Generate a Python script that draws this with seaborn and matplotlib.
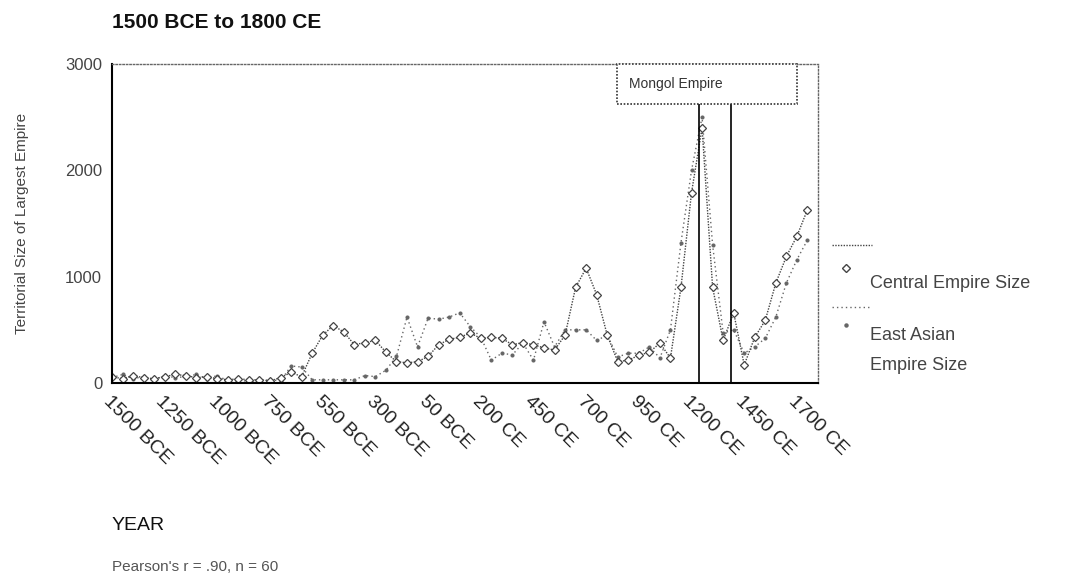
import numpy as np
import pandas as pd
import matplotlib
matplotlib.use("Agg")
import matplotlib.pyplot as plt
import seaborn as sns
from matplotlib.lines import Line2D
from matplotlib.patches import Rectangle

years = list(range(-1550, 1751, 50))
central = [60, 40, 70, 50, 40, 60, 80, 70, 50, 60, 40, 30, 40, 30, 30, 20, 50,
           100, 60, 280, 450, 540, 480, 360, 380, 400, 290, 200, 190, 200, 250, 360,
           410, 430, 470, 420, 430, 420, 360, 380, 360, 330, 310, 450, 900, 1080, 830,
           450, 200, 215, 260, 290, 375, 235, 900, 1790, 2400, 900, 400, 660, 170,
           430, 590, 940, 1190, 1380, 1630]
east_asian = [50, 80, 40, 60, 30, 70, 50, 60, 80, 40, 70, 20, 20, 20, 20, 30, 20,
              160, 150, 30, 30, 30, 30, 30, 70, 60, 120, 250, 620, 340, 610, 600,
              620, 660, 530, 430, 215, 280, 265, 375, 215, 575, 340, 500, 500, 500, 400,
              450, 245, 280, 280, 340, 235, 500, 1320, 2000, 2500, 1300, 470, 500, 280,
              340, 420, 620, 940, 1160, 1345]

tick_pos = [-1550, -1300, -1050, -800, -550, -300, -50, 200, 450, 700, 950, 1200, 1450, 1700]
tick_labels = ["1500 BCE", "1250 BCE", "1000 BCE", "750 BCE", "550 BCE", "300 BCE", "50 BCE",
               "200 CE", "450 CE", "700 CE", "950 CE", "1200 CE", "1450 CE", "1700 CE"]
y_ticks = [0, 1000, 2000, 3000]
mongol_span = [1235, 1385]

df = pd.DataFrame({"year": years * 2,
                   "size": central + east_asian,
                   "series": ["Central Empire Size"] * len(years) + ["East Asian Empire Size"] * len(years)})

sns.set_style("white")
plt.rcParams["font.family"] = ["Liberation Sans", "DejaVu Sans"]

C_COL = "#444444"
E_COL = "#666666"
C_LS = (0, (1, 1))
E_LS = (0, (1, 2.2))

fig = plt.figure(figsize=(10.86, 5.85), dpi=100)
ax = fig.add_axes([0.1031, 0.3453, 0.6501, 0.5453])

ea = df[df.series == "East Asian Empire Size"]
ce = df[df.series == "Central Empire Size"]
sns.lineplot(data=ea, x="year", y="size", ax=ax, color=E_COL, linestyle=E_LS,
             linewidth=1.0, marker="o", markersize=2.2, markerfacecolor=E_COL,
             markeredgecolor=E_COL, legend=False)
sns.lineplot(data=ce, x="year", y="size", ax=ax, color=C_COL, linestyle=C_LS,
             linewidth=1.0, marker="D", markersize=4.5, markerfacecolor="white",
             markeredgecolor=C_COL, markeredgewidth=0.9, legend=False)

ax.set_xlim(-1550, 1800)
ax.set_ylim(0, 3000)
ax.set_xticks(tick_pos)
ax.set_xticklabels(tick_labels, rotation=-45, ha="left", va="top", rotation_mode="anchor",
                   fontsize=14, color="#222222")
ax.set_yticks(y_ticks)
ax.set_yticklabels([str(v) for v in y_ticks], fontsize=12, color="#444444")
ax.tick_params(axis="both", direction="out", length=4, width=1.5, color="black", pad=3)
ax.set_xlabel("")
ax.set_ylabel("Territorial Size of Largest Empire", fontsize=11, color="#444444", labelpad=26)

for s in ["left", "bottom"]:
    ax.spines[s].set_color("black")
    ax.spines[s].set_linewidth(1.5)
for s in ["top", "right"]:
    ax.spines[s].set_color("#666666")
    ax.spines[s].set_linewidth(1.0)
    ax.spines[s].set_linestyle((0, (1, 1.5)))

# Mongol Empire span
for xv in mongol_span:
    ax.axvline(xv, ymin=0, ymax=0.875, color="black", linewidth=1.2)
box = Rectangle((0.715, 0.875), 0.255, 0.125, transform=ax.transAxes, facecolor="white",
                edgecolor="#333333", linewidth=1.2, linestyle=(0, (1, 1)), zorder=5, clip_on=False)
ax.add_patch(box)
ax.text(0.732, 0.937, "Mongol Empire", transform=ax.transAxes, fontsize=10, color="#333333",
        va="center", ha="left", zorder=6)

fig.text(0.1031, 0.962, "1500 BCE to 1800 CE", fontsize=15, fontweight="bold", color="#111111",
         ha="left", va="center")
fig.text(0.1031, 0.102, "YEAR", fontsize=14, color="#111111", ha="left", va="center")
fig.text(0.1031, 0.03, "Pearson's r = .90, n = 60", fontsize=11, color="#555555", ha="left", va="center")

# legend drawn by hand in figure pixel coordinates
W, H = 1086.0, 585.0
def fx(px):
    return px / W
def fy(py):
    return 1 - py / H

fig.add_artist(Line2D([fx(832), fx(872)], [fy(245), fy(245)], transform=fig.transFigure,
                      color=C_COL, linestyle=C_LS, linewidth=1.0))
fig.add_artist(Line2D([fx(846)], [fy(268)], transform=fig.transFigure, marker="D",
                      markersize=4.5, markerfacecolor="white", markeredgecolor=C_COL, linestyle="none"))
fig.text(fx(870), fy(283), "Central Empire Size", fontsize=13, color="#444444", ha="left", va="center")
fig.add_artist(Line2D([fx(832), fx(872)], [fy(307), fy(307)], transform=fig.transFigure,
                      color=E_COL, linestyle=E_LS, linewidth=1.0))
fig.add_artist(Line2D([fx(846)], [fy(325)], transform=fig.transFigure, marker="o",
                      markersize=2.2, markerfacecolor=E_COL, markeredgecolor=E_COL, linestyle="none"))
fig.text(fx(870), fy(335), "East Asian", fontsize=13, color="#444444", ha="left", va="center")
fig.text(fx(870), fy(366), "Empire Size", fontsize=13, color="#444444", ha="left", va="center")

fig.savefig("out.png", dpi=100)
